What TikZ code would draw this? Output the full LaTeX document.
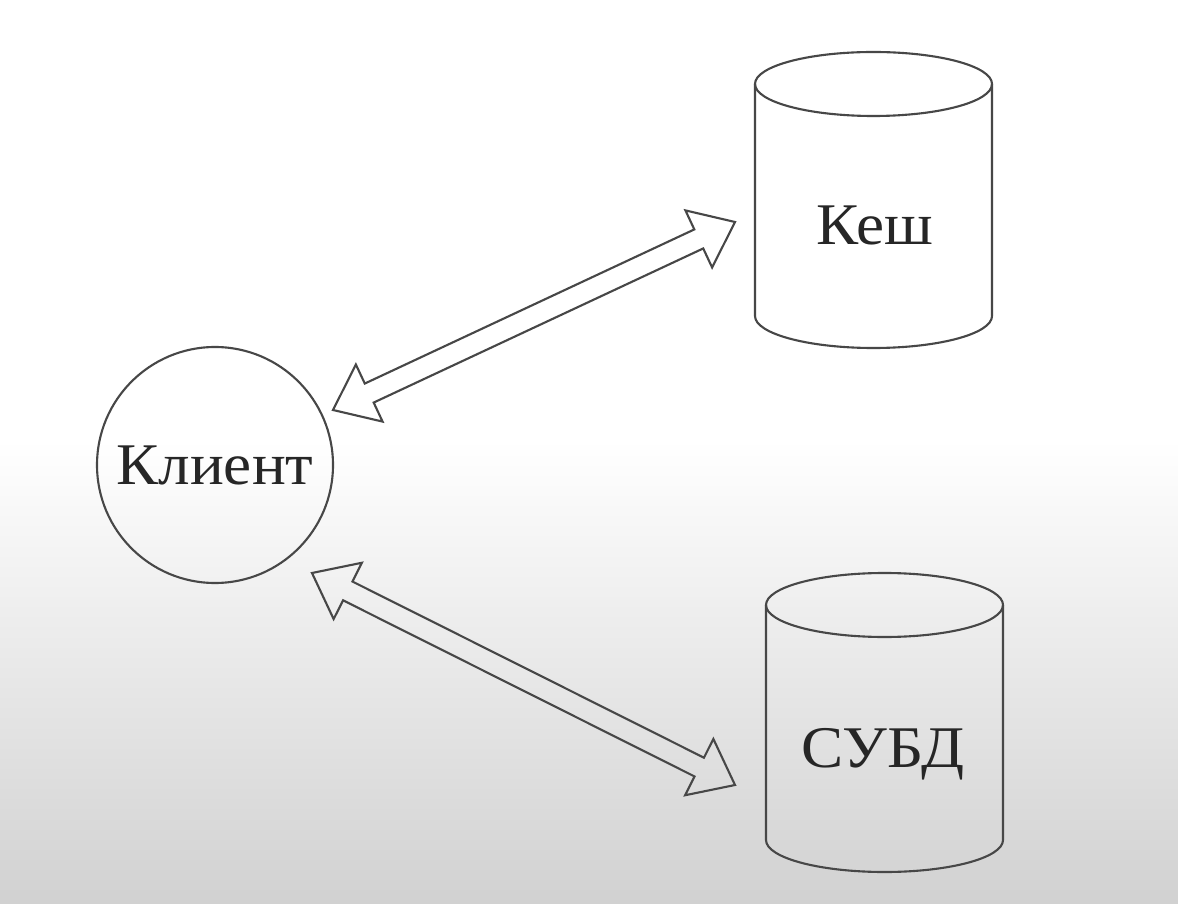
\documentclass[tikz,border=0pt]{standalone}
\usepackage{fontspec}
\setmainfont[FakeStretch=1.07]{Liberation Serif}
\usepackage{tikz}
\usetikzlibrary{calc}
\usepackage{xcolor}
\colorlet{linecol}{black!72}
\colorlet{bgcol}{black!18}
\tikzset{
    outline/.style={draw=linecol, line width=0.6pt},
    label/.style={font=\fontsize{16.8}{20}\selectfont, text=black!85},
}
% hollow double arrow between two points
\newcommand{\hollowarrow}[2]{%
    \draw[outline, line join=miter] (#1)
        -- ($(#1)!0.40cm!(#2)!0.315cm!90:(#2)$)
        -- ($(#1)!0.40cm!(#2)!0.105cm!90:(#2)$)
        -- ($(#2)!0.40cm!(#1)!0.105cm!-90:(#1)$)
        -- ($(#2)!0.40cm!(#1)!0.315cm!-90:(#1)$)
        -- (#2)
        -- ($(#2)!0.40cm!(#1)!0.315cm!90:(#1)$)
        -- ($(#2)!0.40cm!(#1)!0.105cm!90:(#1)$)
        -- ($(#1)!0.40cm!(#2)!0.105cm!-90:(#2)$)
        -- ($(#1)!0.40cm!(#2)!0.315cm!-90:(#2)$)
        -- cycle;
}

\begin{document}
\begin{tikzpicture}
    \begin{scope}

        % background
        \useasboundingbox (0, 0) rectangle (11.78, -9.04);
        \fill[white] (0, 0) rectangle (11.78, -4.40);
        \shade[top color=white, bottom color=bgcol] (0, -4.40) rectangle (11.78, -9.04);

        % client
        \node[outline, circle, minimum size=2.36cm, inner sep=0, label] (klient) at (2.15, -4.65) {Клиент};

        % cache cylinder
        \draw[outline] (7.55, -0.84) -- (7.55, -3.16) arc (180:360:1.185 and 0.32) -- (9.92, -0.84);
        \draw[outline] (8.735, -0.84) ellipse (1.185 and 0.32);
        \node[label, anchor=base] (kesh) at (8.745, -2.45) {Кеш};

        % dbms cylinder
        \draw[outline] (7.66, -6.05) -- (7.66, -8.40) arc (180:360:1.185 and 0.32) -- (10.03, -6.05);
        \draw[outline] (8.845, -6.05) ellipse (1.185 and 0.32);
        \node[label, anchor=base] (subd) at (8.83, -7.67) {СУБД};

        % arrow ends
        \coordinate (kl1) at (3.33, -4.10);
        \coordinate (ke1) at (7.35, -2.22);
        \coordinate (kl2) at (3.12, -5.73);
        \coordinate (su1) at (7.35, -7.85);

        \hollowarrow{kl1}{ke1}
        \hollowarrow{kl2}{su1}

    \end{scope}
\end{tikzpicture}
\end{document}
